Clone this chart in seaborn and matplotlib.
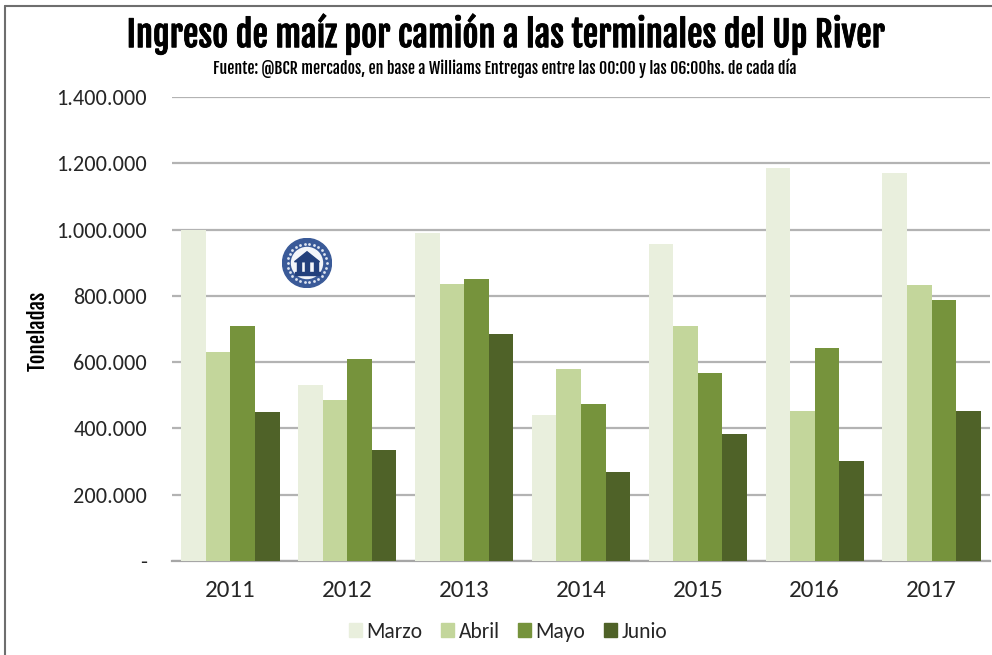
import numpy as np
import pandas as pd
import seaborn as sns
import matplotlib.pyplot as plt
import matplotlib.patheffects as pe
from matplotlib.lines import Line2D
from matplotlib.patches import Circle, Rectangle, Polygon

years = ["2011", "2012", "2013", "2014", "2015", "2016", "2017"]
months = ["Marzo", "Abril", "Mayo", "Junio"]
marzo = [1000000, 530000, 990000, 440000, 955000, 1187000, 1172000]
abril = [630000, 485000, 835000, 578000, 710000, 453000, 833000]
mayo = [710000, 610000, 850000, 475000, 567000, 643000, 787000]
junio = [450000, 335000, 685000, 270000, 382000, 302000, 452000]
colors = ["#e9efdd", "#c3d69b", "#76933c", "#4f6228"]
yticks = [0, 200000, 400000, 600000, 800000, 1000000, 1200000, 1400000]

W, H = 992, 655
narrow = ["Fjalla One", "Roboto Condensed", "DejaVu Sans"]

df = pd.DataFrame({"year": years, "Marzo": marzo, "Abril": abril, "Mayo": mayo, "Junio": junio})
df = df.melt(id_vars="year", var_name="mes", value_name="ton")

sns.set_style("white")
plt.rcParams["font.family"] = ["Carlito", "Lato", "DejaVu Sans"]

fig = plt.figure(figsize=(W / 100, H / 100), dpi=100)
ax = fig.add_axes([172 / W, 1 - 561 / H, (990 - 172) / W, (561 - 97) / H])

sns.barplot(data=df, x="year", y="ton", hue="mes", hue_order=months, palette=colors,
            gap=0, width=0.84, saturation=1, linewidth=0, ax=ax, legend=False, zorder=3)

ax.set_ylim(0, 1400000)
ax.set_yticks(yticks)
ax.set_yticklabels(["-" if v == 0 else f"{v:,}".replace(",", ".") for v in yticks],
                   fontsize=16, color="#262626")
ax.tick_params(axis="y", length=0, pad=18)
ax.tick_params(axis="x", length=0, pad=14, labelsize=18, labelcolor="#262626")
ax.grid(axis="y", color="#b3b3b3", linewidth=1.6, zorder=0)
ax.set_axisbelow(True)
ax.set_xlabel("")
ax.set_ylabel("")
for s in ["top", "right", "left"]:
    ax.spines[s].set_visible(False)
ax.spines["bottom"].set_color("#a6a6a6")
ax.spines["bottom"].set_linewidth(1.6)

# titulo
fig.text(506 / W, 1 - 34 / H, "Ingreso de maíz por camión a las terminales del Up River",
         ha="center", va="center", fontsize=25, color="black", family=narrow,
         path_effects=[pe.withStroke(linewidth=0.6, foreground="black")])
fig.text(505 / W, 1 - 68 / H,
         "Fuente: @BCR mercados, en base a Williams Entregas entre las 00:00 y las 06:00hs. de cada día",
         ha="center", va="center", fontsize=11.4, color="black", family=narrow)
fig.text(38 / W, 1 - 331 / H, "Toneladas", rotation=90, ha="center", va="center",
         fontsize=15, color="black", family=narrow)

# marco
fig.add_artist(Line2D([5 / W, 5 / W], [0, 1 - 6 / H], color="#6e6e6e", linewidth=1.5))
fig.add_artist(Line2D([5 / W, 1], [1 - 6 / H, 1 - 6 / H], color="#6e6e6e", linewidth=1.5))

# leyenda
legend_handles = [Rectangle((0, 0), 1, 1, color=c) for c in colors]
fig.legend(legend_handles, months, loc="center", bbox_to_anchor=(508 / W, 1 - 632 / H), ncol=4,
           frameon=False, fontsize=15.5, handlelength=0.62, handleheight=0.62,
           handletextpad=0.2, columnspacing=0.85, labelcolor="#262626")

# logo
logo = fig.add_axes([282 / W, 1 - 288 / H, 50 / W, 50 / H])
logo.set_xlim(-1, 1)
logo.set_ylim(-1, 1)
logo.axis("off")
logo.patch.set_alpha(0)
logo.add_patch(Circle((0, 0), 0.98, color="#3a5a98"))
angles = np.linspace(0, 2 * np.pi, 26, endpoint=False)
logo.scatter(0.78 * np.cos(angles), 0.78 * np.sin(angles), s=4, color="#dfe6f1", linewidths=0)
logo.add_patch(Circle((0, 0), 0.62, color="#f4f6fa"))
logo.add_patch(Polygon([(-0.5, 0.05), (0, 0.45), (0.5, 0.05)], color="#23407c"))
logo.add_patch(Rectangle((-0.42, -0.38), 0.16, 0.45, color="#23407c"))
logo.add_patch(Rectangle((-0.08, -0.38), 0.16, 0.45, color="#23407c"))
logo.add_patch(Rectangle((0.26, -0.38), 0.16, 0.45, color="#23407c"))
logo.add_patch(Rectangle((-0.5, -0.48), 1.0, 0.1, color="#23407c"))

plt.savefig("out.png", dpi=100)
